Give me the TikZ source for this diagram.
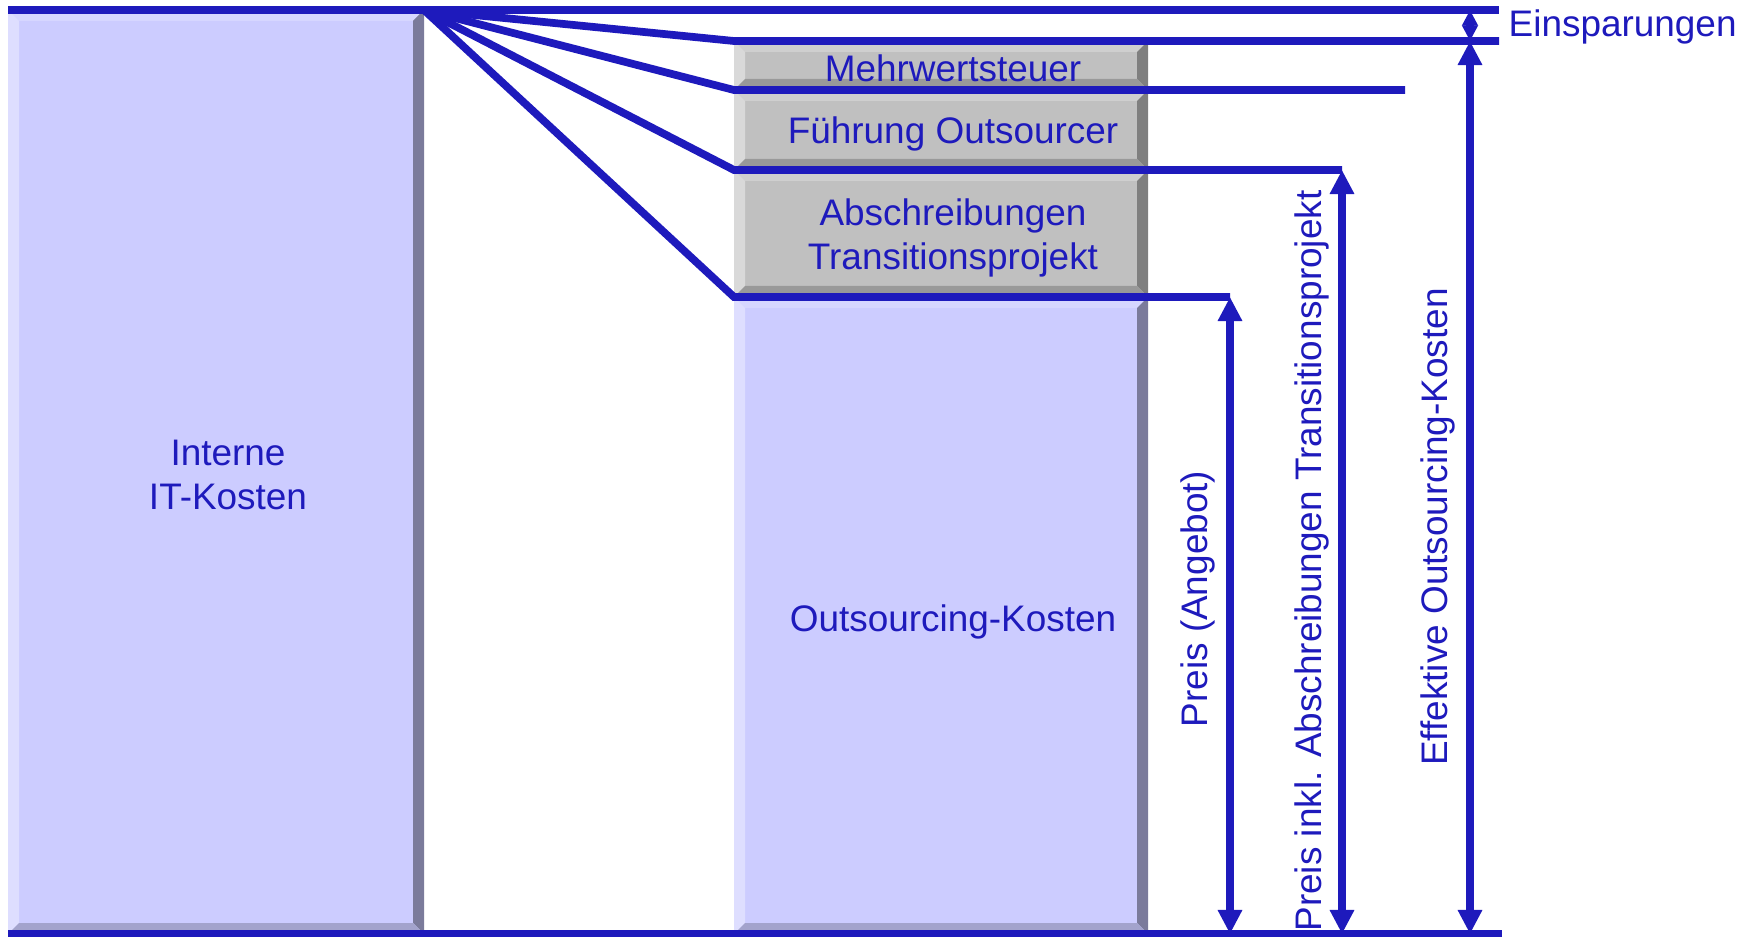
\documentclass[tikz,border=0pt]{standalone}
\usepackage{fontspec}
\setmainfont{Liberation Sans}
\usepackage{xcolor}
\usepackage{tikz}
\usetikzlibrary{arrows.meta}
\definecolor{ink}{HTML}{1E1ABC}
\definecolor{bluefill}{HTML}{CCCCFF}
\definecolor{bluelite}{HTML}{DEDEFF}
\definecolor{bluetop}{HTML}{D6D6FF}
\definecolor{bluedark}{HTML}{7B7B9B}
\definecolor{bluebot}{HTML}{A3A3CC}
\definecolor{grayfill}{HTML}{C0C0C0}
\definecolor{graylite}{HTML}{D9D9D9}
\definecolor{graytop}{HTML}{CFCFCF}
\definecolor{graydark}{HTML}{7F7F7F}
\definecolor{graybot}{HTML}{999999}
\newcommand{\bev}{11}
% bevelled box: left, top, right, bottom, colour set
\newcommand{\bevelbox}[5]{%
  \fill[#5fill] (#1,#2) rectangle (#3,#4);
  \fill[#5top] (#1,#2) -- (#3,#2) -- (#3-\bev,#2+\bev) -- (#1+\bev,#2+\bev) -- cycle;
  \fill[#5lite] (#1,#2) -- (#1+\bev,#2+\bev) -- (#1+\bev,#4-\bev) -- (#1,#4) -- cycle;
  \fill[#5dark] (#3,#2) -- (#3,#4) -- (#3-\bev,#4-\bev) -- (#3-\bev,#2+\bev) -- cycle;
  \fill[#5bot] (#1,#4) -- (#3,#4) -- (#3-\bev,#4-\bev) -- (#1+\bev,#4-\bev) -- cycle;
}
\tikzset{
  rule/.style={draw=ink, line width=2.2pt},
  dim/.style={draw=ink, line width=2.2pt,
    arrows={Triangle[length=2.4mm,width=2.3mm]-Triangle[length=2.4mm,width=2.3mm]}},
  dimsmall/.style={draw=ink, line width=2.2pt,
    arrows={Triangle[length=1.55mm,width=1.5mm]-Triangle[length=1.55mm,width=1.5mm]}},
  lab/.style={text=ink, inner sep=0pt, align=center, font=\fontsize{10.5}{12.6}\selectfont},
}

\begin{document}
\begin{tikzpicture}[x=0.01cm, y=-0.01cm]
  \useasboundingbox (0,0) rectangle (1739,937);

  % boxes
  \bevelbox{8}{10}{424}{934}{blue}
  \bevelbox{734}{41}{1148}{90}{gray}
  \bevelbox{734}{90}{1148}{170}{gray}
  \bevelbox{734}{170}{1148}{297}{gray}
  \bevelbox{734}{297}{1148}{934}{blue}

  \coordinate (fan) at (424,10);
  \coordinate (topL) at (8,10);
  \coordinate (topR) at (1499,10);
  \coordinate (botL) at (8,934);
  \coordinate (botR) at (1502,934);
  \coordinate (mwL) at (734,41);
  \coordinate (mwR) at (1499,41);
  \coordinate (fuL) at (734,90);
  \coordinate (fuR) at (1405,90);
  \coordinate (abL) at (734,170);
  \coordinate (abR) at (1342,170);
  \coordinate (osL) at (734,297);
  \coordinate (osR) at (1230,297);

  \draw[rule] (topL) -- (topR);
  \draw[rule] (botL) -- (botR);
  \draw[rule] (fan) -- (mwL) -- (mwR);
  \draw[rule] (fan) -- (fuL) -- (fuR);
  \draw[rule] (fan) -- (abL) -- (abR);
  \draw[rule] (fan) -- (osL) -- (osR);

  % dimension arrows
  \coordinate (preisB) at (1230,934);
  \coordinate (inklB) at (1342,934);
  \coordinate (effT) at (1470,41);
  \coordinate (effB) at (1470,934);
  \coordinate (einT) at (1470,10);
  \draw[dim] (osR) -- (preisB);
  \draw[dim] (abR) -- (inklB);
  \draw[dim] (effT) -- (effB);
  \draw[dimsmall] (einT) -- (effT);

  \node[lab] (interne) at (228,475) {Interne\\IT-Kosten};
  \node[lab] (mwst) at (953,68) {Mehrwertsteuer};
  \node[lab] (fuehrung) at (953,134) {Führung Outsourcer};
  \node[lab] (abschr) at (953,238) {Abschreibungen\\Transitionsprojekt};
  \node[lab] (oskosten) at (953,622) {Outsourcing-Kosten};
  \node[lab, rotate=90] (preis) at (1198,599) {Preis (Angebot)};
  \node[lab, rotate=90] (preisinkl) at (1312,561) {Preis inkl. Abschreibungen Transitionsprojekt};
  \node[lab, rotate=90] (effektiv) at (1438,527) {Effektive Outsourcing-Kosten};
  \node[lab, anchor=west] (einsp) at (1508,27) {Einsparungen};
\end{tikzpicture}
\end{document}
